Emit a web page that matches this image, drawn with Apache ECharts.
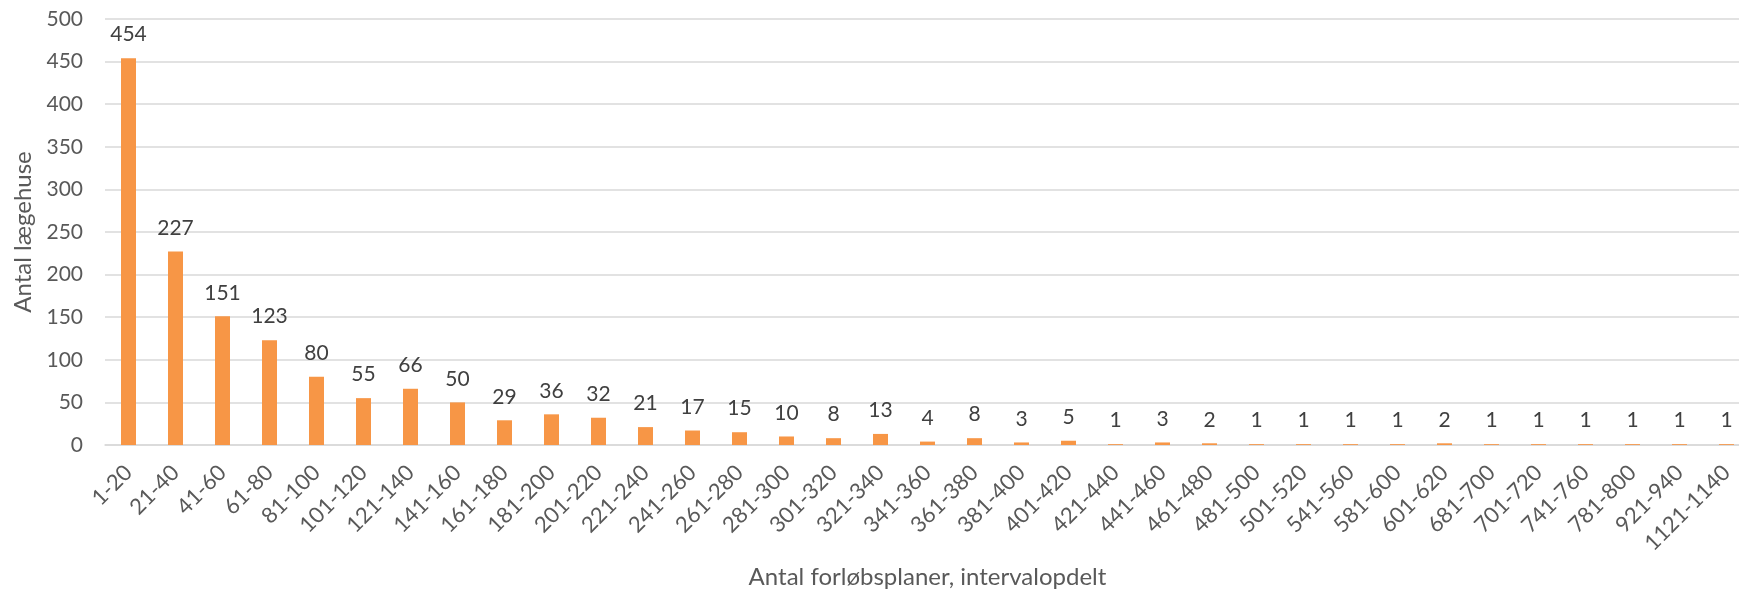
<!DOCTYPE html>
<html>
<head>
<meta charset="utf-8">
<script src="https://cdn.jsdelivr.net/npm/echarts@6/dist/echarts.min.js"></script>
<style>
    html, body { margin: 0; padding: 0; background: #fff; }
    #chart { width: 1739px; height: 593px; }
</style>
</head>
<body>
<div id="chart"></div>
<script>
    // intervaller (x-akse)
    var categories = ['1-20', '21-40', '41-60', '61-80', '81-100', '101-120', '121-140', '141-160',
        '161-180', '181-200', '201-220', '221-240', '241-260', '261-280', '281-300', '301-320',
        '321-340', '341-360', '361-380', '381-400', '401-420', '421-440', '441-460', '461-480',
        '481-500', '501-520', '541-560', '581-600', '601-620', '681-700', '701-720', '741-760',
        '781-800', '921-940', '1121-1140'];
    // antal lægehuse pr. interval
    var counts = [454, 227, 151, 123, 80, 55, 66, 50, 29, 36, 32, 21, 17, 15, 10, 8, 13, 4, 8, 3, 5,
        1, 3, 2, 1, 1, 1, 1, 2, 1, 1, 1, 1, 1, 1];
    var yTicks = [0, 50, 100, 150, 200, 250, 300, 350, 400, 450, 500];

    var font = 'Lato, "Open Sans", sans-serif';
    var myChart = echarts.init(document.getElementById('chart'));
    myChart.setOption({
        backgroundColor: '#ffffff',
        animation: false,
        grid: {
            left: 105,
            right: -11,
            top: 19,
            bottom: 148,
            containLabel: false,
            outerBoundsMode: 'none'
        },
        xAxis: {
            type: 'category',
            data: categories,
            name: 'Antal forløbsplaner, intervalopdelt',
            nameLocation: 'middle',
            nameGap: 120,
            nameTextStyle: {
                fontFamily: font,
                fontSize: 24,
                color: '#595959'
            },
            axisTick: { show: false },
            axisLine: { lineStyle: { color: '#d9d9d9', width: 1.5 } },
            axisLabel: {
                rotate: 45,
                margin: 24,
                interval: 0,
                fontFamily: font,
                fontSize: 22,
                color: '#595959'
            }
        },
        yAxis: {
            type: 'value',
            min: yTicks[0],
            max: yTicks[yTicks.length - 1],
            interval: 50,
            name: 'Antal lægehuse',
            nameLocation: 'middle',
            nameGap: 66,
            nameTextStyle: {
                fontFamily: font,
                fontSize: 24,
                color: '#595959'
            },
            axisLine: { show: false },
            axisTick: { show: false },
            splitLine: { lineStyle: { color: '#d9d9d9', width: 1.5 } },
            axisLabel: {
                margin: 22,
                fontFamily: font,
                fontSize: 21,
                color: '#595959'
            }
        },
        series: [{
            type: 'bar',
            data: counts,
            barWidth: 15,
            itemStyle: { color: '#F79646' },
            label: {
                show: true,
                position: 'top',
                distance: 13,
                fontFamily: font,
                fontSize: 21,
                color: '#404040'
            }
        }]
    });
</script>
</body>
</html>
